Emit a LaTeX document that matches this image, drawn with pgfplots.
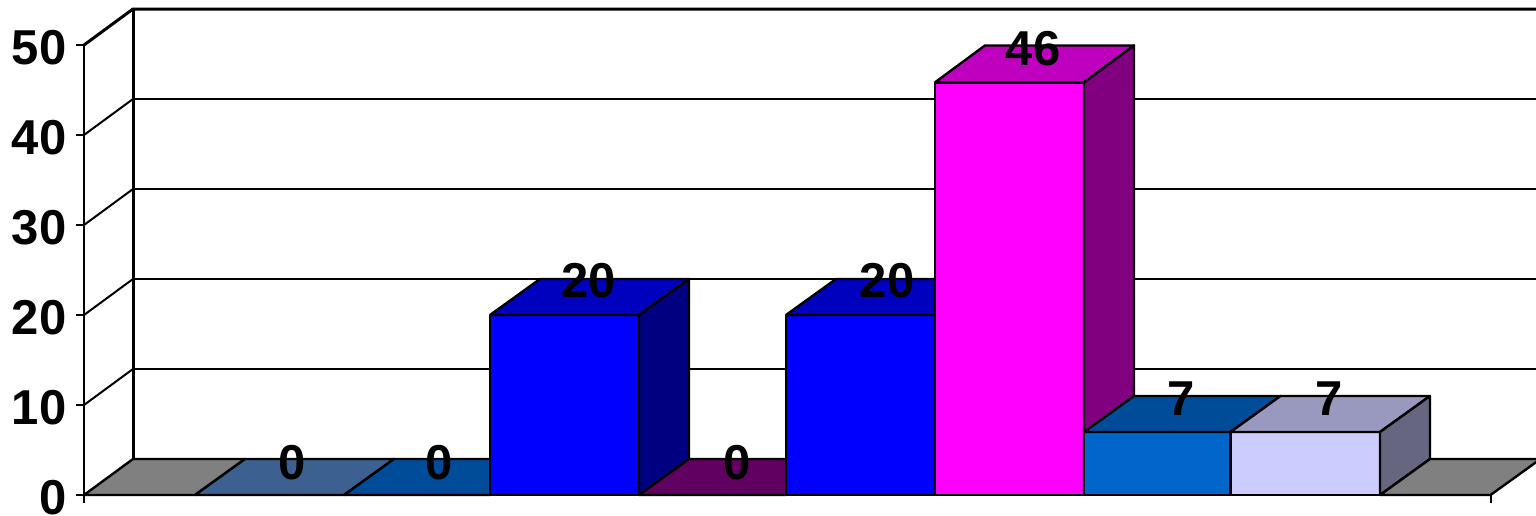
\documentclass[border=0pt]{standalone}
\usepackage{pgfplots}
\pgfplotsset{compat=1.18}
\usepackage{fontspec}
\setmainfont{Liberation Sans}
\definecolor{gfloor}{HTML}{808080}
\definecolor{slate}{HTML}{3C6190}
\definecolor{navy}{HTML}{004C99}
\definecolor{midblue}{HTML}{0066CC}
\definecolor{plumfloor}{HTML}{600060}
\definecolor{purefront}{HTML}{0000FF}
\definecolor{bluetop}{HTML}{0000BF}
\definecolor{blueside}{HTML}{000080}
\definecolor{magfront}{HTML}{FF00FF}
\definecolor{magtop}{HTML}{BF00BF}
\definecolor{magside}{HTML}{800080}
\definecolor{liltop}{HTML}{9999BF}
\definecolor{lilside}{HTML}{666680}
\definecolor{lilfront}{HTML}{CCCCFF}
\pgfplotsset{
  face/.style={draw=black,line width=2.4pt,line join=round,fill=#1,mark=none,forget plot},
  rule/.style={draw=black,line width=#1,mark=none,forget plot},
}
\begin{document}
\begin{tikzpicture}[x=1pt,y=1pt]
\path[use as bounding box,clip] (0,0) rectangle (1536,515);
\begin{axis}[
  at={(84pt,12pt)},anchor=south west,
  scale only axis,width=1452pt,height=458pt,
  xmin=84,xmax=1536,ymin=-0.889,ymax=50,
  clip=false,
  axis x line=none,axis y line=left,
  axis line style={-,draw=black,line width=2pt},
  ytick={0,10,20,30,40,50},
  tick align=outside,
  major tick length=8pt,
  tick style={draw=black,line width=2pt},
  yticklabel style={font=\fontsize{49}{49}\selectfont\bfseries,inner sep=0pt,xshift=-9.5pt,yshift=-2.5pt,
    /pgf/number format/assume math mode=true},
  nodes near coords style={anchor=center,inner sep=0pt,font=\fontsize{49}{49}\selectfont\bfseries,text=black},
]
% back wall and grid
\addplot[rule=2pt] coordinates {(133,14.05) (1540,14.05)};
\addplot[rule=2pt] coordinates {(133,24.05) (1540,24.05)};
\addplot[rule=2pt] coordinates {(133,34) (1540,34)};
\addplot[rule=2pt] coordinates {(133,44) (1540,44)};
\addplot[rule=3pt] coordinates {(84,50) (133,54) (1540,54)};
\addplot[rule=2pt] coordinates {(84,40) (133,44)};
\addplot[rule=2pt] coordinates {(84,30) (133,34)};
\addplot[rule=2pt] coordinates {(84,20) (133,24)};
\addplot[rule=2pt] coordinates {(84,10) (133,14)};
\addplot[rule=3pt] coordinates {(133,54) (133,4)};
% floor stub left
\addplot[face=gfloor] coordinates {(84,0) (195,0) (245,4) (133,4) (84,0)};
% 0
\addplot[face=slate] coordinates {(195,0) (344,0) (394,4) (245,4) (195,0)};
% 0
\addplot[face=navy] coordinates {(344,0) (490,0) (540,4) (394,4) (344,0)};
% 20
\addplot[face=purefront] coordinates {(490,0) (639,0) (639,20) (490,20) (490,0)};
\addplot[face=bluetop] coordinates {(490,20) (639,20) (689,24) (540,24) (490,20)};
\addplot[face=blueside] coordinates {(639,0) (689,4) (689,24) (639,20) (639,0)};
% 0
\addplot[face=plumfloor] coordinates {(639,0) (786,0) (836,4) (689,4) (639,0)};
% 20
\addplot[face=purefront] coordinates {(786,0) (935,0) (935,20) (786,20) (786,0)};
\addplot[face=bluetop] coordinates {(786,20) (935,20) (985,24) (836,24) (786,20)};
% 46
\addplot[face=magfront] coordinates {(935,0) (1084,0) (1084,45.85) (935,45.85) (935,0)};
\addplot[face=magtop] coordinates {(935,45.85) (1084,45.85) (1134,49.95) (985,49.95) (935,45.85)};
\addplot[face=magside] coordinates {(1084,0) (1134,4) (1134,49.95) (1084,45.85) (1084,0)};
% 7
\addplot[face=midblue] coordinates {(1084,0) (1230.5,0) (1230.5,7) (1084,7) (1084,0)};
\addplot[face=navy] coordinates {(1084,7) (1230.5,7) (1280.5,11) (1134,11) (1084,7)};
% 7
\addplot[face=lilfront] coordinates {(1230.5,0) (1380,0) (1380,7) (1230.5,7) (1230.5,0)};
\addplot[face=liltop] coordinates {(1230.5,7) (1380,7) (1430,11) (1280.5,11) (1230.5,7)};
\addplot[face=lilside] coordinates {(1380,0) (1430,4) (1430,11) (1380,7) (1380,0)};
% floor stub right
\addplot[face=gfloor] coordinates {(1380,0) (1490.5,0) (1540.5,4) (1430,4) (1380,0)};
% base line and end tick
\addplot[rule=2.6pt] coordinates {(84,0) (1490.5,0)};
\addplot[rule=2pt] coordinates {(1490.5,0) (1490.5,-0.889)};
\addplot[draw=none,mark=none,forget plot,nodes near coords,point meta=explicit symbolic] coordinates {
  (292,3.6) [0]
  (439,3.6) [0]
  (588.5,23.8) [20]
  (737.5,3.6) [0]
  (887,23.8) [20]
  (1033,49.6) [46]
  (1181,10.7) [7]
  (1329,10.7) [7]
};
\end{axis}
\end{tikzpicture}
\end{document}
